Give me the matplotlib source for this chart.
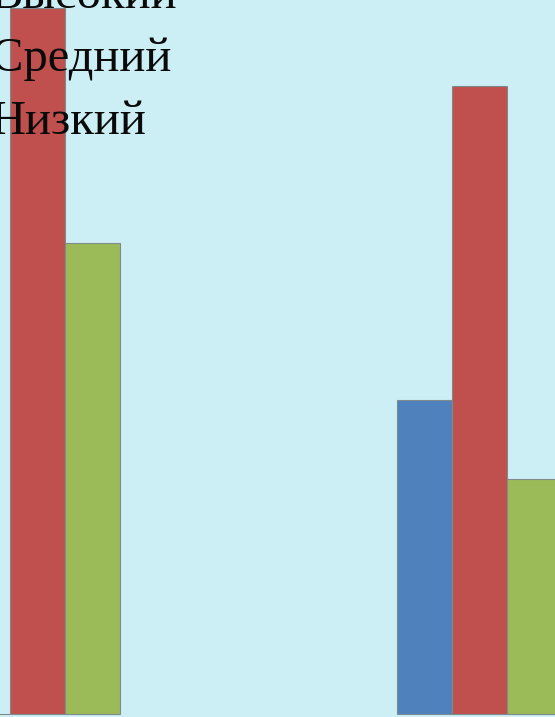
import numpy as np
import matplotlib.pyplot as plt

# данные: уровни по группам
groups = ['Группа 1', 'Группа 2']
levels = ['Высокий', 'Средний', 'Низкий']
values = {
    'Низкий': [0, 20],
    'Высокий': [45, 40],
    'Средний': [30, 15],
}
series_order = ['Низкий', 'Высокий', 'Средний']
colors = ['#4F81BD', '#C0504D', '#9BBB59']

W, H = 555, 717
fig = plt.figure(figsize=(W / 100, H / 100), dpi=100)
fig.patch.set_facecolor('#CCEFF5')
ax = fig.add_axes([0, 0, 1, 1])
ax.set_facecolor('#CCEFF5')

x = np.arange(len(groups))
w = 0.1245
for i, (name, c) in enumerate(zip(series_order, colors)):
    ax.bar(x + (i - 1) * w, values[name], w, color=c, edgecolor='#7f8a8c', linewidth=0.8)

ax.set_xlim(-0.0848, 1.1708)
ax.set_ylim(-0.19, 45.5)
ax.axis('off')

# подписи легенды (левый край обрезан)
for j, lab in enumerate(levels):
    fig.text(-9 / W, 1 - (8 + 63 * j) / H, lab, fontsize=35, family='Liberation Serif',
             va='baseline', ha='left', color='#0a0a0a')

fig.savefig('out.png', dpi=100, facecolor=fig.get_facecolor())
